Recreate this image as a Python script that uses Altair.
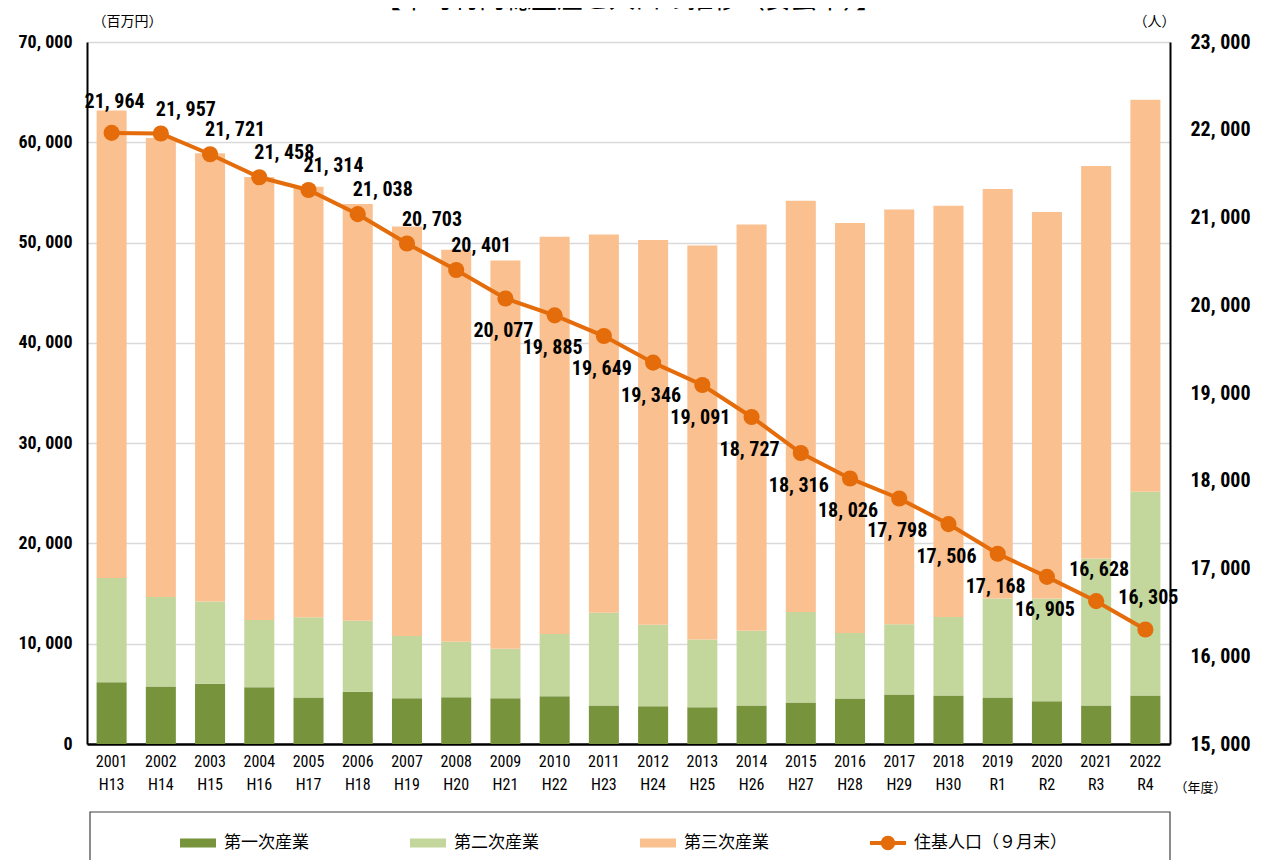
import altair as alt
import pandas as pd

years = ["2001", "2002", "2003", "2004", "2005", "2006", "2007", "2008", "2009", "2010", "2011",
         "2012", "2013", "2014", "2015", "2016", "2017", "2018", "2019", "2020", "2021", "2022"]
eras = ["H13", "H14", "H15", "H16", "H17", "H18", "H19", "H20", "H21", "H22", "H23",
        "H24", "H25", "H26", "H27", "H28", "H29", "H30", "R1", "R2", "R3", "R4"]
primary = [6160, 5730, 6000, 5660, 4630, 5200, 4560, 4660, 4560, 4760, 3830,
           3760, 3660, 3830, 4130, 4530, 4930, 4830, 4630, 4260, 3830, 4830]
secondary = [10400, 8930, 8200, 6700, 8000, 7100, 6200, 5540, 4940, 6200, 9270,
             8140, 6770, 7470, 9030, 6530, 7000, 7830, 9870, 10240, 14670, 20330]
tertiary = [46610, 45760, 44700, 44170, 42930, 41540, 40840, 39080, 38720, 39620, 37710,
            38350, 39280, 40500, 41010, 40890, 41370, 41010, 40830, 38540, 39130, 39080]
population = [21964, 21957, 21721, 21458, 21314, 21038, 20703, 20401, 20077, 19885, 19649,
              19346, 19091, 18727, 18316, 18026, 17798, 17506, 17168, 16905, 16628, 16305]

series_names = ["第一次産業", "第二次産業", "第三次産業", "住基人口（９月末）"]
series_colors = ["#77933C", "#C3D69B", "#FAC090", "#E46C0A"]
title_text = "【市町村内総生産と人口の推移（安芸市）】"

cats = [f"{y}|{e}" for y, e in zip(years, eras)]

rows = []
for i, c in enumerate(cats):
    for k, vals in enumerate([primary, secondary, tertiary]):
        rows.append({"年度": c, "産業": series_names[k], "値": vals[i], "ord": k})
bar_df = pd.DataFrame(rows)
pop_df = pd.DataFrame({"年度": cats, "人口": population, "i": list(range(len(cats)))})

NUM_FONT = "Liberation Sans Narrow, Roboto Condensed, Liberation Sans, sans-serif"
JP_FONT = "Noto Sans CJK JP"
ORANGE = series_colors[3]

x_scale = alt.Scale(paddingInner=0.39, paddingOuter=0.195)
x_axis = alt.Axis(
    title="（年度）", titleFont=JP_FONT, titleFontSize=13, titleFontWeight="normal",
    titleAngle=0, titleX=1113, titleY=43, titleAlign="center", titleBaseline="middle",
    labelExpr="split(datum.label, '|')", labelFont=NUM_FONT, labelFontSize=16,
    labelColor="black", labelLineHeight=23, labelPadding=9, labelAngle=0,
    ticks=False, domainColor="black", domainWidth=2.5, grid=False,
)
x_enc = alt.X("年度:N", sort=cats, scale=x_scale, axis=x_axis)

num_label = "replace(format(datum.value, ','), ',', ', ')"

left_axis = alt.Axis(
    title="（百万円）", titleFont=JP_FONT, titleFontSize=14, titleFontWeight="normal",
    titleAngle=0, titleX=40, titleY=-21, titleAlign="center", titleBaseline="middle",
    values=[0, 10000, 20000, 30000, 40000, 50000, 60000, 70000],
    labelExpr=num_label, labelFont=NUM_FONT, labelFontSize=18, labelFontWeight="bold",
    labelColor="black", labelPadding=15, ticks=False,
    domainColor="black", domainWidth=2, grid=True, gridColor="#D9D9D9", gridWidth=1.5,
)
right_axis = alt.Axis(
    orient="right",
    title="（人）", titleFont=JP_FONT, titleFontSize=14, titleFontWeight="normal",
    titleAngle=0, titleX=-16, titleY=-21, titleAlign="center", titleBaseline="middle",
    values=[15000, 16000, 17000, 18000, 19000, 20000, 21000, 22000, 23000],
    labelExpr=num_label, labelFont=NUM_FONT, labelFontSize=20, labelFontWeight="bold",
    labelColor="black", labelPadding=20, ticks=False,
    domainColor="black", domainWidth=2, grid=False,
)
right_scale = alt.Scale(domain=[15000, 23000], nice=False, zero=False)

line_shape = "M-1,-0.11H1V0.11H-1Z M0.4,0A0.4,0.4 0 1,1 -0.4,0A0.4,0.4 0 1,1 0.4,0Z"
bar_shape = "M-1,-0.25H1V0.25H-1Z"

legend = alt.Legend(
    title=None, orient="none", legendX=93, legendY=783, direction="horizontal",
    columns=4, gridAlign="all", columnPadding=33, padding=0,
    symbolSize=1296, symbolType={"expr": f"datum.value === '{series_names[3]}' ? '{line_shape}' : '{bar_shape}'"},
    symbolStrokeWidth=0, labelFont=JP_FONT, labelFontSize=17, labelColor="black",
    labelOffset=8, labelLimit=300,
)

bars = alt.Chart(bar_df).mark_bar().encode(
    x=x_enc,
    y=alt.Y("値:Q", stack="zero", scale=alt.Scale(domain=[0, 70000], nice=False), axis=left_axis),
    color=alt.Color("産業:N", scale=alt.Scale(domain=series_names, range=series_colors), legend=legend),
    order=alt.Order("ord:Q", sort="ascending"),
)

y_pop = alt.Y("人口:Q", scale=right_scale, axis=right_axis)

base_pop = alt.Chart(pop_df).encode(x=x_enc, y=y_pop)
line = base_pop.mark_line(color=ORANGE, strokeWidth=4)
points = base_pop.mark_circle(color=ORANGE, size=260, opacity=1)

lab_base = base_pop.transform_calculate(
    lbl="replace(format(datum['人口'], ','), ',', ', ')"
)
lab_kw = dict(font=NUM_FONT, fontSize=20, fontWeight="bold", color="black",
              align="center", baseline="middle")
labels_top = lab_base.transform_filter("datum.i == 0 || datum.i >= 20").mark_text(
    dx=3, dy=-31, **lab_kw).encode(text="lbl:N")
labels_ur = lab_base.transform_filter("datum.i >= 1 && datum.i <= 7").mark_text(
    dx=25, dy=-24, **lab_kw).encode(text="lbl:N")
labels_below = lab_base.transform_filter("datum.i >= 8 && datum.i <= 19").mark_text(
    dx=-2, dy=33, **lab_kw).encode(text="lbl:N")

pop_layer = alt.layer(line, points, labels_top, labels_ur, labels_below)

one = pd.DataFrame({"a": [0]})
title_mark = alt.Chart(one).mark_text(
    text=title_text, font=JP_FONT, fontSize=26, color="black",
    align="center", baseline="alphabetic",
).encode(x=alt.value(541.5), y=alt.value(-34))

legend_box = alt.Chart(one).mark_rect(
    fill="white", fillOpacity=0, stroke="#404040", strokeWidth=1.2,
).encode(x=alt.value(3), x2=alt.value(1083), y=alt.value(770), y2=alt.value(900))

chart = alt.layer(legend_box, bars, pop_layer, title_mark).resolve_scale(
    y="independent"
).properties(
    width=1083, height=702,
    autosize=alt.AutoSizeParams(type="none"),
    padding={"left": 79, "top": 34, "right": 84, "bottom": 116},
).configure_view(stroke=None)

chart.save("out.html", embed_options={"renderer": "svg", "actions": False})
